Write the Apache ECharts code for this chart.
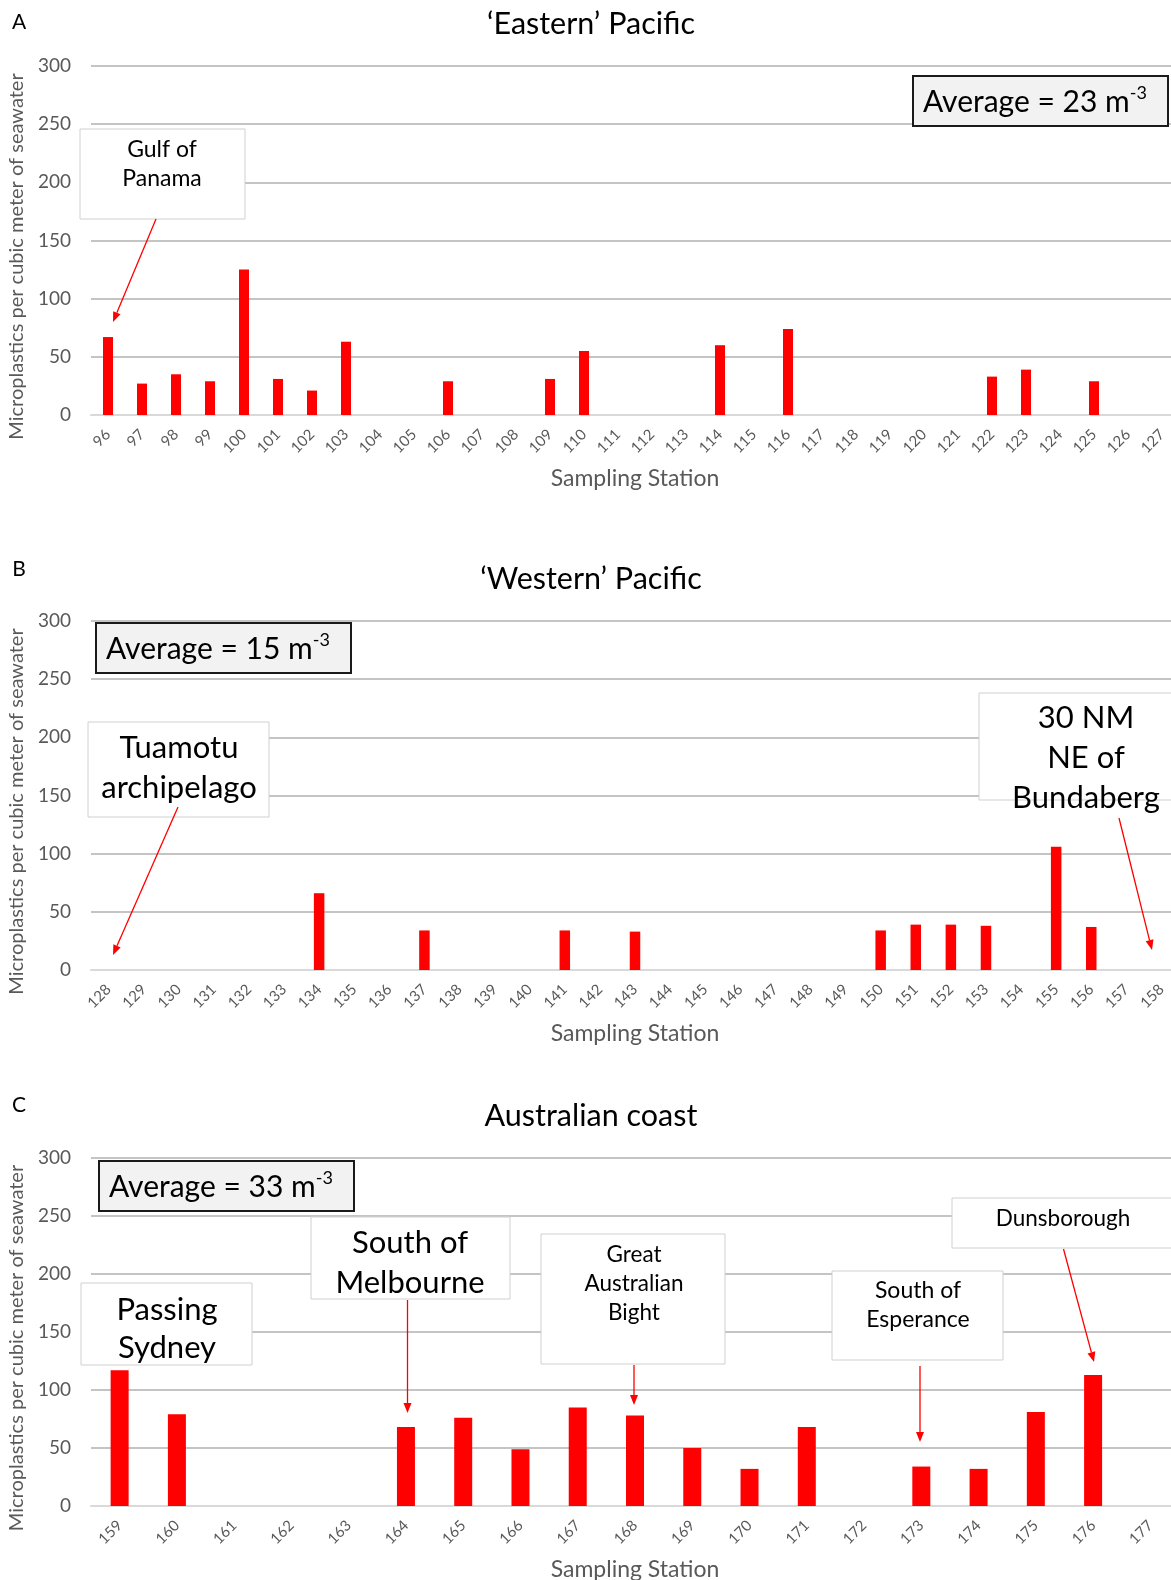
<!DOCTYPE html>
<html><head><meta charset="utf-8">
<script src="https://cdn.jsdelivr.net/npm/echarts@6/dist/echarts.min.js"></script>
<style>html,body{margin:0;padding:0;background:#fff}#c{width:1171px;height:1580px}</style>
</head><body><div id="c"></div>
<script>
// ---- Data ----
const stationsA = ['96','97','98','99','100','101','102','103','104','105','106','107','108','109','110','111','112','113','114','115','116','117','118','119','120','121','122','123','124','125','126','127'];
const valuesA   = [67,27,35,29,125,31,21,63,0,0,29,0,0,31,55,0,0,0,60,0,74,0,0,0,0,0,33,39,0,29,0,0];
const stationsB = ['128','129','130','131','132','133','134','135','136','137','138','139','140','141','142','143','144','145','146','147','148','149','150','151','152','153','154','155','156','157','158'];
const valuesB   = [0,0,0,0,0,0,66,0,0,34,0,0,0,34,0,33,0,0,0,0,0,0,34,39,39,38,0,106,37,0,0];
const stationsC = ['159','160','161','162','163','164','165','166','167','168','169','170','171','172','173','174','175','176','177'];
const valuesC   = [117,79,0,0,0,68,76,49,85,78,50,32,68,0,34,32,81,113,0];
const yTicks = [0, 50, 100, 150, 200, 250, 300];
const panelTitles = ['\u2018Eastern\u2019 Pacific', '\u2018Western\u2019 Pacific', 'Australian coast'];
const panelLetters = ['A', 'B', 'C'];
const averages = ['23', '15', '33'];
const yName = 'Microplastics per cubic meter of seawater';
const xName = 'Sampling Station';

// ---- Layout ----
const FONT = 'Lato, "Open Sans", sans-serif';
const grids = [
  {left: 91, width: 1088, top: 66, height: 349, outerBoundsMode: 'none', containLabel: false},
  {left: 91, width: 1088, top: 621, height: 349, outerBoundsMode: 'none', containLabel: false},
  {left: 91, width: 1088, top: 1158, height: 348, outerBoundsMode: 'none', containLabel: false}
];
const barW = [10, 10.5, 18];
const cats = [stationsA, stationsB, stationsC];
const vals = [valuesA, valuesB, valuesC];

const xAxes = [], yAxes = [], series = [];
for (let i = 0; i < 3; i++) {
  xAxes.push({
    type: 'category', gridIndex: i, data: cats[i],
    name: xName, nameLocation: 'middle', nameGap: 52,
    nameTextStyle: {color: '#595959', fontFamily: FONT, fontSize: 23},
    axisLine: {lineStyle: {color: '#d9d9d9', width: 2}},
    axisTick: {show: false},
    axisLabel: {interval: 0, rotate: 45, margin: 17, color: '#595959', fontFamily: FONT, fontSize: 15}
  });
  yAxes.push({
    type: 'value', gridIndex: i, min: yTicks[0], max: yTicks[yTicks.length - 1], interval: yTicks[1] - yTicks[0],
    name: yName, nameLocation: 'middle', nameGap: 61, nameRotate: 90,
    nameTextStyle: {color: '#595959', fontFamily: FONT, fontSize: 20, padding: [0, 32, 0, 0]},
    axisLine: {show: false}, axisTick: {show: false},
    axisLabel: {margin: 20, color: '#595959', fontFamily: FONT, fontSize: 19},
    splitLine: {lineStyle: {color: '#c4c4c4', width: 2}}
  });
  series.push({
    type: 'bar', xAxisIndex: i, yAxisIndex: i, data: vals[i],
    barWidth: barW[i], itemStyle: {color: '#ff0000'}, silent: true, animation: false
  });
}

// ---- Annotations (graphic) ----
const G = [];
function txt(x, y, text, size, opts) {
  G.push(Object.assign({type: 'text', x: x, y: y, z: 20,
    style: {text: text, fill: '#000', font: size + 'px ' + FONT,
      align: 'center', verticalAlign: 'middle', textAlign: 'center', textVerticalAlign: 'middle'}}, opts || {}));
}
function box(x1, y1, x2, y2, stroke, fill, lw) {
  G.push({type: 'rect', z: 15, shape: {x: x1, y: y1, width: x2 - x1, height: y2 - y1},
    style: {fill: fill || '#fff', stroke: stroke || '#d0d0d0', lineWidth: lw || 1}});
}
function arrow(x1, y1, x2, y2) {
  const a = Math.atan2(y2 - y1, x2 - x1), L = 10, W = 4;
  const bx = x2 - L * Math.cos(a), by = y2 - L * Math.sin(a);
  const px = -Math.sin(a) * W, py = Math.cos(a) * W;
  G.push({type: 'line', z: 25, shape: {x1: x1, y1: y1, x2: bx, y2: by}, style: {stroke: '#ff0000', lineWidth: 1.3}});
  G.push({type: 'polygon', z: 25, shape: {points: [[x2, y2], [bx + px, by + py], [bx - px, by - py]]}, style: {fill: '#ff0000'}});
}
function avgBox(x1, y1, x2, y2, val) {
  box(x1, y1, x2, y2, '#1a1a1a', '#f2f2f2', 2);
  G.push({type: 'text', x: x1 + 10, y: (y1 + y2) / 2 + 1, z: 20,
    style: {text: '{a|Average = ' + val + ' m}{b|-3}', fill: '#000',
      align: 'left', verticalAlign: 'middle', textAlign: 'left', textVerticalAlign: 'middle',
      rich: {a: {fontFamily: FONT, fontSize: 30, lineHeight: 36, fill: '#000', color: '#000'},
             b: {fontFamily: FONT, fontSize: 18, lineHeight: 22, verticalAlign: 'top', fill: '#000', color: '#000'}}}});
}

// titles and panel letters
const titleY = [24, 579, 1116];
const letterY = [22, 569, 1105];
for (let i = 0; i < 3; i++) {
  txt(591, titleY[i], panelTitles[i], 30.5);
  txt(19, letterY[i], panelLetters[i], 21);
}

// Panel A
avgBox(913, 76, 1168, 126, averages[0]);
box(80, 129, 245, 219);
txt(162, 150, 'Gulf of', 23);
txt(162, 179, 'Panama', 23);
arrow(156, 219, 113, 322);

// Panel B
avgBox(96, 623, 351, 673, averages[1]);
box(88, 722, 269, 817);
txt(179, 748, 'Tuamotu', 31);
txt(179, 788, 'archipelago', 31);
arrow(178, 807, 113, 955);
box(979, 693, 1180, 800);
txt(1086, 718, '30 NM', 31);
txt(1086, 758, 'NE of', 31);
txt(1086, 798, 'Bundaberg', 31);
arrow(1119, 818, 1152, 950);

// Panel C
avgBox(99, 1161, 354, 1211, averages[2]);
box(81, 1283, 252, 1365);
txt(167, 1310, 'Passing', 31);
txt(167, 1348, 'Sydney', 31);
box(311, 1217, 510, 1299);
txt(410, 1243, 'South of', 31);
txt(410, 1283, 'Melbourne', 31);
arrow(407.5, 1300, 407.5, 1413);
box(541, 1234, 725, 1364);
txt(634, 1255, 'Great', 22.5);
txt(634, 1284, 'Australian', 22.5);
txt(634, 1313, 'Bight', 22.5);
arrow(634, 1365, 634, 1405);
box(832, 1271, 1003, 1360);
txt(918, 1291, 'South of', 23);
txt(918, 1320, 'Esperance', 23);
arrow(920, 1366, 920, 1442);
box(952, 1198, 1180, 1248);
txt(1063, 1219, 'Dunsborough', 22.5);
arrow(1063.5, 1249, 1094, 1362);

const chart = echarts.init(document.getElementById('c'), null, {renderer: 'canvas'});
chart.setOption({
  animation: false,
  backgroundColor: '#fff',
  textStyle: {fontFamily: FONT},
  grid: grids,
  xAxis: xAxes,
  yAxis: yAxes,
  series: series,
  graphic: {elements: G}
});
</script></body></html>
